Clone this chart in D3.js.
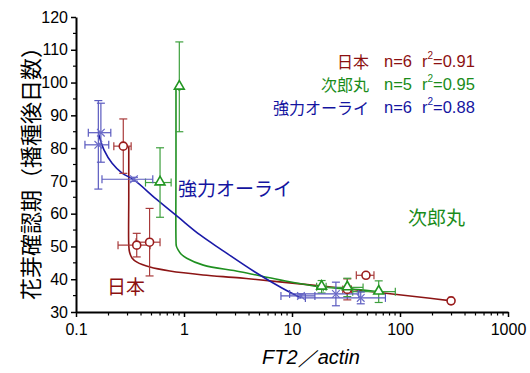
<!DOCTYPE html>
<html><head><meta charset="utf-8">
<script src="https://cdn.jsdelivr.net/npm/d3@7"></script>
<style>
body{margin:0;background:#fff;}
svg{display:block;}
text{font-family:"Liberation Sans",Arial,sans-serif;}
.cjk{font-family:"Noto Sans CJK JP","Noto Sans CJK SC",sans-serif;}
</style></head>
<body>
<svg id="c" width="530" height="373"></svg>
<script>
// ---- data ----
const xTickValues = [0.1, 1, 10, 100, 1000];
const xTickLabels = ["0.1", "1", "10", "100", "1000"];
const yTickValues = [30, 40, 50, 60, 70, 80, 90, 100, 110, 120];

const seriesNames = ["日本", "次郎丸", "強力オーライ"];
const seriesN = [6, 5, 6];
const seriesR2 = ["0.91", "0.95", "0.88"];

// 日本
const nihonX    = [0.274, 0.365, 0.48, 48.4, 32.5, 297];
const nihonY    = [80.6, 50.4, 51.3, 41.2, 36.9, 33.4];
const nihonXErr = [0.05, 0.12, 0.12, 9, 3, 15];
const nihonYErr = [8.3, 3.6, 10.3, 0.6, 3.2, 0.5];
// 次郎丸
const jiroX    = [0.905, 0.6, 18.8, 32.5, 63.5];
const jiroY    = [98.7, 69.5, 37.7, 37.5, 36.2];
const jiroXErr = [0.01, 0.16, 1.9, 13, 27];
const jiroYErr = [13.7, 10.6, 1.9, 2.8, 3.3];
// 強力オーライ
const kyoX    = [0.17, 0.161, 0.344, 12.1, 25.5, 43.3];
const kyoY    = [84.7, 81.0, 70.5, 34.9, 35.5, 34.3];
const kyoXErr = [0.04, 0.04, 0.17, 4.2, 16, 30];
const kyoYErr = [9, 13.5, 0.6, 0.6, 3.6, 1.8];

// fitted curves
const nihonCurveX = [0.308, 0.308, 0.308, 0.313, 0.33, 0.367, 0.484, 0.74, 1.5, 3.3, 7.7, 22, 46, 190, 300];
const nihonCurveY = [80.6, 65, 50.5, 48.3, 46.5, 45.2, 43.7, 42.5, 41.3, 40.4, 39.2, 37.7, 36.5, 34.2, 33.4];
const jiroCurveX = [0.843, 0.843, 0.843, 0.85, 0.885, 0.938, 1.06, 1.51, 3.3, 7.7, 18.2, 45.7, 63.5];
const jiroCurveY = [98.7, 75, 52, 50.1, 48.9, 47.7, 46.4, 44.3, 42.3, 39.8, 37.7, 36.7, 36.2];
const kyoCurveX = [0.163, 0.182, 0.216, 0.267, 0.344, 0.551, 0.88, 1.41, 2.25, 4.54, 8.07, 12.1];
const kyoCurveY = [84.0, 79.4, 75.4, 72.4, 70.3, 64.5, 59.0, 53.5, 48.9, 42.2, 37.3, 34.3];

// ---- drawing ----
const svg = d3.select("#c");
const x = d3.scaleLog().domain([0.1, 1000]).range([76, 508]);
const y = d3.scaleLinear().domain([30, 120]).range([312, 17]);

const colors = {
  nihon: {line: "#8c1515", err: "#a83a3a", mark: "#9a1c1c", text: "#8c1010"},
  jiro:  {line: "#1f9020", err: "#3ea03e", mark: "#229622", text: "#1a8c1a"},
  kyo:   {line: "#1a1aa8", err: "#5a5abf", mark: "#6a6ac8", text: "#1414a0"}
};

// axes
const xAxis = d3.axisBottom(x).tickValues(xTickValues).tickFormat((d, i) => xTickLabels[i]).tickSize(5).tickSizeOuter(0);
const gx = svg.append("g").attr("transform", "translate(0,312)").call(xAxis);
gx.select(".domain").attr("stroke", "#000").attr("stroke-width", 2);
gx.selectAll(".tick line").attr("stroke", "#000").attr("stroke-width", 1.5);
gx.selectAll(".tick text").attr("font-size", 16).attr("dy", "0.95em").attr("fill", "#000").attr("font-family", "Liberation Sans, Arial");
// minor x ticks
const minorX = [];
for (let e = -1; e < 3; e++) for (let k = 2; k <= 9; k++) minorX.push(k * Math.pow(10, e));
svg.append("g").selectAll("line").data(minorX).join("line")
  .attr("x1", d => x(d)).attr("x2", d => x(d)).attr("y1", 312).attr("y2", 315.5)
  .attr("stroke", "#000").attr("stroke-width", 1.2);

const yAxis = d3.axisLeft(y).tickValues(yTickValues).tickSize(5).tickSizeOuter(0);
const gy = svg.append("g").attr("transform", "translate(76,0)").call(yAxis);
gy.select(".domain").attr("stroke", "#000").attr("stroke-width", 2);
gy.selectAll(".tick line").attr("stroke", "#000").attr("stroke-width", 1.5);
gy.selectAll(".tick text").attr("font-size", 16).attr("fill", "#000").attr("font-family", "Liberation Sans, Arial");
const minorY = d3.range(35, 120, 10);
svg.append("g").selectAll("line").data(minorY).join("line")
  .attr("x1", 73).attr("x2", 76).attr("y1", d => y(d)).attr("y2", d => y(d))
  .attr("stroke", "#000").attr("stroke-width", 1.2);

// curves
const line = d3.line().x(d => x(d[0])).y(d => y(d[1])).curve(d3.curveCatmullRom.alpha(0.5));
function drawCurve(xs, ys, col) {
  svg.append("path").datum(xs.map((v, i) => [v, ys[i]]))
    .attr("d", line).attr("fill", "none").attr("stroke", col).attr("stroke-width", 1.6);
}
drawCurve(nihonCurveX, nihonCurveY, colors.nihon.line);
drawCurve(jiroCurveX, jiroCurveY, colors.jiro.line);
drawCurve(kyoCurveX, kyoCurveY, colors.kyo.line);

// error bars
function drawErr(xs, ys, xe, ye, col) {
  const g = svg.append("g").attr("stroke", col).attr("stroke-width", 1.2).attr("fill", "none");
  const cap = 4;
  xs.forEach((xv, i) => {
    const yv = ys[i];
    const cx = x(xv), cy = y(yv);
    const y1 = y(yv + ye[i]), y2 = y(yv - ye[i]);
    g.append("line").attr("x1", cx).attr("x2", cx).attr("y1", y1).attr("y2", y2);
    g.append("line").attr("x1", cx - cap).attr("x2", cx + cap).attr("y1", y1).attr("y2", y1);
    g.append("line").attr("x1", cx - cap).attr("x2", cx + cap).attr("y1", y2).attr("y2", y2);
    const lo = Math.max(xv - xe[i], 0.101);
    const x1 = x(lo), x2 = x(xv + xe[i]);
    g.append("line").attr("x1", x1).attr("x2", x2).attr("y1", cy).attr("y2", cy);
    g.append("line").attr("x1", x1).attr("x2", x1).attr("y1", cy - cap).attr("y2", cy + cap);
    g.append("line").attr("x1", x2).attr("x2", x2).attr("y1", cy - cap).attr("y2", cy + cap);
  });
}
drawErr(nihonX, nihonY, nihonXErr, nihonYErr, colors.nihon.err);
drawErr(jiroX, jiroY, jiroXErr, jiroYErr, colors.jiro.err);
drawErr(kyoX, kyoY, kyoXErr, kyoYErr, colors.kyo.err);

// markers
svg.append("g").selectAll("circle").data(nihonX.map((v, i) => [v, nihonY[i]])).join("circle")
  .attr("cx", d => x(d[0])).attr("cy", d => y(d[1])).attr("r", 4)
  .attr("fill", "#fff").attr("stroke", colors.nihon.mark).attr("stroke-width", 1.6);
const tri = d3.symbol().type(d3.symbolTriangle).size(42);
svg.append("g").selectAll("path").data(jiroX.map((v, i) => [v, jiroY[i]])).join("path")
  .attr("transform", d => `translate(${x(d[0])},${y(d[1]) - 0.5})`).attr("d", tri)
  .attr("fill", "#fff").attr("stroke", colors.jiro.mark).attr("stroke-width", 1.6);
const cross = d3.symbol().type(d3.symbolX).size(40);
svg.append("g").selectAll("path").data(kyoX.map((v, i) => [v, kyoY[i]])).join("path")
  .attr("transform", d => `translate(${x(d[0])},${y(d[1])})`).attr("d", cross)
  .attr("fill", "none").attr("stroke", colors.kyo.mark).attr("stroke-width", 1.2);

// legend text (top right)
const legendCols = [colors.nihon.text, colors.jiro.text, colors.kyo.text];
const legendY = [61, 84, 107];
seriesNames.forEach((nm, i) => {
  const g = svg.append("g").attr("fill", legendCols[i]);
  g.append("text").attr("class", "cjk").attr("x", 369).attr("y", legendY[i])
    .attr("text-anchor", "end").attr("dominant-baseline", "central").attr("font-size", 16).text(nm);
  g.append("text").attr("x", 384).attr("y", legendY[i])
    .attr("dominant-baseline", "central").attr("font-size", 16.5).text("n=" + seriesN[i]);
  const t = g.append("text").attr("x", 422).attr("y", legendY[i])
    .attr("dominant-baseline", "central").attr("font-size", 16.5);
  t.append("tspan").text("r");
  t.append("tspan").attr("font-size", 10).attr("dy", -6).text("2");
  t.append("tspan").attr("dy", 6).text("=" + seriesR2[i]);
});

// in-plot labels
svg.append("text").attr("class", "cjk").attr("x", 178).attr("y", 187).attr("dominant-baseline", "central")
  .attr("font-size", 19).attr("fill", colors.kyo.text).text(seriesNames[2]);
svg.append("text").attr("class", "cjk").attr("x", 408).attr("y", 216).attr("dominant-baseline", "central")
  .attr("font-size", 19).attr("fill", colors.jiro.text).text(seriesNames[1]);
svg.append("text").attr("class", "cjk").attr("x", 107).attr("y", 285).attr("dominant-baseline", "central")
  .attr("font-size", 19).attr("fill", colors.nihon.text).text(seriesNames[0]);

// axis titles
svg.append("text").attr("class", "cjk").attr("transform", "translate(29,168) rotate(-90)")
  .attr("text-anchor", "middle").attr("dominant-baseline", "central").attr("font-size", 22)
  .attr("fill", "#000").text("花芽確認期（播種後日数）");
svg.append("text").attr("x", 311).attr("y", 357).attr("text-anchor", "middle").attr("dominant-baseline", "central")
  .attr("font-size", 20).attr("font-style", "italic").attr("fill", "#000").text("FT2／actin");
</script>
</body></html>
